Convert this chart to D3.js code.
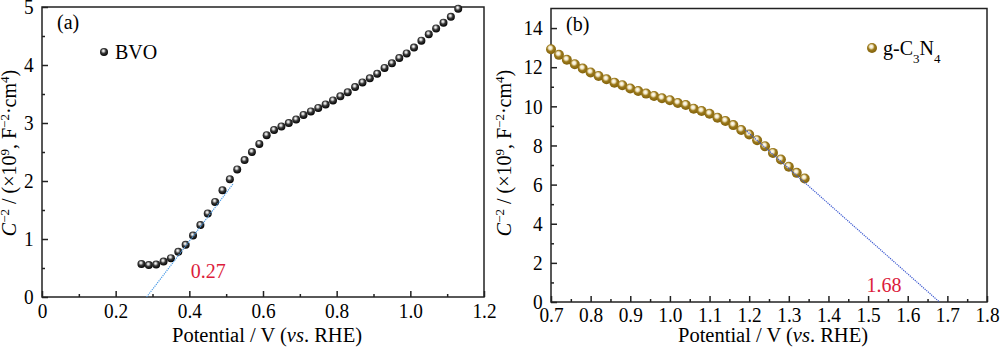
<!DOCTYPE html>
<meta charset="utf-8">
<html>
<body style="margin:0;background:#fff">
<div id="chart"></div>
<script src="https://cdn.jsdelivr.net/npm/d3@7"></script>
<script>
// panel (a) BVO, Mott-Schottky points
var bvoV = [0.27,0.29,0.31,0.33,0.35,0.37,0.39,0.41,0.43,0.45,0.47,0.49,0.51,0.53,0.55,
            0.57,0.59,0.61,0.63,0.65,0.67,0.69,0.71,0.73,0.75,0.77,0.79,0.81,0.83,0.85,
            0.87,0.89,0.91,0.93,0.95,0.97,0.99,1.01,1.03,1.05,1.07,1.09,1.11,1.13];
var bvoC = [0.57,0.55,0.56,0.61,0.67,0.78,0.90,1.06,1.24,1.44,1.64,1.84,2.03,2.20,2.36,
            2.50,2.64,2.79,2.88,2.94,3.00,3.06,3.14,3.20,3.26,3.32,3.39,3.46,3.53,3.62,
            3.70,3.77,3.85,3.95,4.03,4.12,4.20,4.30,4.42,4.53,4.63,4.73,4.83,4.97];
// panel (b) g-C3N4
var cnV = [0.70,0.72,0.74,0.76,0.78,0.80,0.82,0.84,0.86,0.88,0.90,0.92,0.94,0.96,0.98,
           1.00,1.02,1.04,1.06,1.08,1.10,1.12,1.14,1.16,1.18,1.20,1.22,1.24,1.26,1.28,
           1.30,1.32,1.34];
var cnC = [12.92,12.63,12.38,12.15,11.93,11.73,11.55,11.38,11.21,11.08,10.91,10.78,10.65,10.53,10.41,
           10.31,10.17,10.07,9.88,9.76,9.62,9.42,9.25,9.04,8.79,8.56,8.27,7.96,7.62,7.28,
           6.91,6.60,6.31];
// linear fits (extrapolated to the x axis)
var fitAV = [0.284, 0.52], fitAC = [0, 1.96];
var fitBV = [1.19, 1.68],  fitBC = [8.8, 0];
// ticks
var aXMajor = [0,0.2,0.4,0.6,0.8,1.0,1.2], aXMinor = [0.1,0.3,0.5,0.7,0.9,1.1];
var aYMajor = [0,1,2,3,4,5], aYMinor = [0.5,1.5,2.5,3.5,4.5];
var bXMajor = [0.7,0.8,0.9,1.0,1.1,1.2,1.3,1.4,1.5,1.6,1.7,1.8];
var bXMinor = [0.75,0.85,0.95,1.05,1.15,1.25,1.35,1.45,1.55,1.65,1.75];
var bYMajor = [0,2,4,6,8,10,12,14], bYMinor = [1,3,5,7,9,11,13];

var serif = "Liberation Serif, Times New Roman, Nimbus Roman, DejaVu Serif, serif";
var svg = d3.select("#chart").append("svg").attr("width", 1000).attr("height", 352)
  .style("background", "#fff").attr("font-family", serif);

// sphere gradients
var defs = svg.append("defs");
function sphere(id, stops) {
  var g = defs.append("radialGradient").attr("id", id)
    .attr("cx", "45%").attr("cy", "40%").attr("r", "60%").attr("fx", "42%").attr("fy", "35%");
  stops.forEach(function (s) { g.append("stop").attr("offset", s[0]).attr("stop-color", s[1]); });
}
sphere("ballBlack", [["0%","#ffffff"],["22%","#c8c8c8"],["50%","#3a3a3a"],["100%","#000"]]);
sphere("ballGold", [["0%","#ffffff"],["28%","#f1e6c4"],["55%","#9c7a1c"],["100%","#80600a"]]);

function panel(c) {
  var x = d3.scaleLinear().domain(c.xDom).range([c.left, c.right]);
  var y = d3.scaleLinear().domain(c.yDom).range([c.bottom, c.top]);
  var g = svg.append("g");

  // minor ticks
  g.append("g").attr("transform", "translate(0," + c.bottom + ")")
    .call(d3.axisBottom(x).tickValues(c.xMinor).tickSize(-3).tickFormat(""));
  g.append("g").attr("transform", "translate(" + c.left + ",0)")
    .call(d3.axisLeft(y).tickValues(c.yMinor).tickSize(-3).tickFormat(""));
  // major ticks
  g.append("g").attr("transform", "translate(0," + c.bottom + ")")
    .call(d3.axisBottom(x).tickValues(c.xMajor).tickSize(-6).tickPadding(c.xPad).tickFormat(c.xFmt));
  g.append("g").attr("transform", "translate(" + c.left + ",0)")
    .call(d3.axisLeft(y).tickValues(c.yMajor).tickSize(-6).tickPadding(9).tickFormat(d3.format("d")));
  g.selectAll(".domain").remove();
  g.selectAll("g").attr("font-family", serif).attr("font-size", 21);
  g.selectAll(".tick line").attr("stroke", "#222").attr("stroke-width", 1.5);
  g.selectAll(".tick text").attr("fill", "#000").attr("transform", "scale(0.92,1)");

  // frame
  g.append("rect").attr("x", c.left).attr("y", c.top)
    .attr("width", c.right - c.left).attr("height", c.bottom - c.top)
    .attr("fill", "none").attr("stroke", "#222").attr("stroke-width", 1.5);

  // points
  g.append("g").selectAll("circle").data(c.xs).enter().append("circle")
    .attr("cx", function (d) { return x(d); })
    .attr("cy", function (d, i) { return y(c.ys[i]); })
    .attr("r", c.r).attr("fill", "url(#" + c.ball + ")");

  // fit line
  var line = d3.line().x(function (d) { return x(d); }).y(function (d, i) { return y(c.fitY[i]); });
  g.append("path").attr("d", line(c.fitX)).attr("fill", "none")
    .attr("stroke", c.fitColor).attr("stroke-width", 1.2).attr("stroke-dasharray", "1.2,1");

  // intercept value
  g.append("text").attr("x", x(c.valPos[0])).attr("y", y(c.valPos[1]))
    .attr("fill", "#dc1c3c").attr("font-size", 20).text(c.valText);

  // panel tag
  g.append("text").attr("x", c.left + 15).attr("y", c.top + 22).attr("font-size", 20).text(c.tag);

  // legend
  g.append("circle").attr("cx", c.legX).attr("cy", c.legY).attr("r", c.r)
    .attr("fill", "url(#" + c.ball + ")");
  var lt = g.append("text").attr("x", c.legX + 11).attr("y", c.legY + 7).attr("font-size", 20);
  c.legend(lt);

  // x title
  var xt = g.append("text").attr("text-anchor", "middle")
    .attr("x", (c.left + c.right) / 2 + 4).attr("y", 342)
    .attr("font-size", 20.5);
  xt.append("tspan").text("Potential / V (");
  xt.append("tspan").attr("font-style", "italic").text("vs");
  xt.append("tspan").text(". RHE)");

  // y title
  var yt = g.append("text").attr("text-anchor", "middle")
    .attr("transform", "translate(" + c.ytX + ",153) rotate(-90)")
    .attr("font-size", 20);
  yt.append("tspan").attr("font-style", "italic").text("C");
  yt.append("tspan").attr("baseline-shift", "super").attr("font-size", 13).text("\u22122");
  yt.append("tspan").text(" / (\u00d710");
  yt.append("tspan").attr("baseline-shift", "super").attr("font-size", 13).text("9");
  yt.append("tspan").text(", F");
  yt.append("tspan").attr("baseline-shift", "super").attr("font-size", 13).text("\u22122");
  yt.append("tspan").text("\u00b7cm");
  yt.append("tspan").attr("baseline-shift", "super").attr("font-size", 13).text("4");
  yt.append("tspan").text(")");
}

panel({
  left: 42, right: 484, top: 7, bottom: 297, xDom: [0, 1.2], yDom: [0, 5],
  xMajor: aXMajor, xMinor: aXMinor, yMajor: aYMajor, yMinor: aYMinor, xPad: 6,
  xFmt: function (d) { return d === 0 ? "0" : d.toFixed(1); },
  xs: bvoV, ys: bvoC, r: 4, ball: "ballBlack",
  fitX: fitAV, fitY: fitAC, fitColor: "#4b9be6",
  valPos: [0.404, 0.33], valText: "0.27", tag: "(a)",
  legX: 104, legY: 52, ytX: 16,
  legend: function (t) { t.text("BVO"); }
});

panel({
  left: 551, right: 987, top: 8.5, bottom: 302, xDom: [0.7, 1.8], yDom: [0, 15],
  xMajor: bXMajor, xMinor: bXMinor, yMajor: bYMajor, yMinor: bYMinor, xPad: 5,
  xFmt: function (d) { return d.toFixed(1); },
  xs: cnV, ys: cnC, r: 5, ball: "ballGold",
  fitX: fitBV, fitY: fitBC, fitColor: "#3b58d0",
  valPos: [1.496, 0.5], valText: "1.68", tag: "(b)",
  legX: 872, legY: 48, ytX: 511,
  legend: function (t) {
    t.append("tspan").text("g-C");
    t.append("tspan").attr("baseline-shift", "sub").attr("font-size", 13).text("3");
    t.append("tspan").text("N");
    t.append("tspan").attr("baseline-shift", "sub").attr("font-size", 13).text("4");
  }
});
</script>
</body>
</html>
